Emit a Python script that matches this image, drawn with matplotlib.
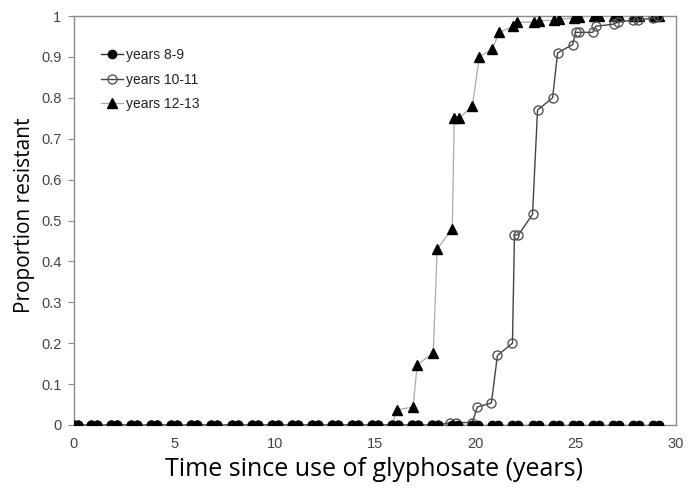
import matplotlib
matplotlib.use("Agg")
import matplotlib.pyplot as plt

# ---- data ----
years_89 = [0.0, 0.2, 0.85, 1.15, 1.85, 2.15, 2.85, 3.15, 3.85, 4.15, 4.85, 5.15,
            5.85, 6.15, 6.85, 7.15, 7.85, 8.15, 8.85, 9.15, 9.85, 10.15, 10.85,
            11.15, 11.85, 12.15, 12.85, 13.15, 13.85, 14.15, 14.85, 15.15, 15.85,
            16.15, 16.85, 17.15, 17.85, 18.15, 18.85, 19.15, 19.85, 20.15, 20.85,
            21.15, 21.85, 22.15, 22.85, 23.15, 23.85, 24.15, 24.85, 25.15, 25.85,
            26.15, 26.85, 27.15, 27.85, 28.15, 28.85, 29.15]
prop_89 = [0.0] * 60

years_1011 = [0.0, 0.2, 0.85, 1.15, 1.85, 2.15, 2.85, 3.15, 3.85, 4.15, 4.85, 5.15,
              5.85, 6.15, 6.85, 7.15, 7.85, 8.15, 8.85, 9.15, 9.85, 10.15, 10.85,
              11.15, 11.85, 12.15, 12.85, 13.15, 13.85, 14.15, 14.85, 15.15, 15.85,
              16.15, 16.85, 17.15, 17.85, 18.15, 18.75, 19.05, 19.85, 20.1, 20.8,
              21.1, 21.85, 21.95, 22.15, 22.85, 23.1, 23.85, 24.1, 24.85, 25.0,
              25.15, 25.85, 26.0, 26.9, 27.1, 27.85, 28.1, 28.85, 29.1]
prop_1011 = [0.0] * 38 + [0.006, 0.006, 0.006, 0.044, 0.054, 0.17, 0.20, 0.465,
                          0.465, 0.515, 0.77, 0.80, 0.91, 0.93, 0.96, 0.96, 0.96,
                          0.975, 0.98, 0.985, 0.99, 0.99, 0.995, 1.0]

years_1213 = [0.0, 0.2, 0.85, 1.15, 1.85, 2.15, 2.85, 3.15, 3.85, 4.15, 4.85, 5.15,
              5.85, 6.15, 6.85, 7.15, 7.85, 8.15, 8.85, 9.15, 9.85, 10.15, 10.85,
              11.15, 11.85, 12.15, 12.85, 13.15, 13.85, 14.15, 14.85, 15.15, 15.85,
              16.1, 16.9, 17.1, 17.9, 18.1, 18.85, 18.95, 19.2, 19.85, 20.2, 20.85,
              21.2, 21.9, 22.1, 22.9, 23.15, 23.9, 24.15, 24.9, 25.15, 25.9, 26.15,
              26.9, 27.15, 27.9, 28.15, 28.9, 29.15]
prop_1213 = [0.0] * 33 + [0.037, 0.044, 0.147, 0.176, 0.43, 0.48, 0.75, 0.75, 0.78,
                          0.90, 0.92, 0.96, 0.975, 0.985, 0.985, 0.988, 0.99,
                          0.992, 0.995, 0.997, 1.0, 1.0, 1.0, 1.0, 1.0, 1.0, 1.0, 1.0]

labels = ["years 8-9", "years 10-11", "years 12-13"]
x_ticks = [0, 5, 10, 15, 20, 25, 30]
y_ticks = [0, 0.1, 0.2, 0.3, 0.4, 0.5, 0.6, 0.7, 0.8, 0.9, 1]
y_tick_labels = ["0", "0.1", "0.2", "0.3", "0.4", "0.5", "0.6", "0.7", "0.8", "0.9", "1"]

# ---- figure ----
fig = plt.figure(figsize=(6.9, 4.88), dpi=100)
ax = fig.add_axes([74 / 690, 63 / 488, 602 / 690, 409 / 488])

ax.plot(years_1213, prop_1213, color="#aaaaaa", lw=0.9, marker="^", ms=6.8,
        mfc="black", mec="black", label=labels[2], zorder=3)
ax.plot(years_1011, prop_1011, color="#444444", lw=1.0, marker="o", ms=6.5,
        mfc="none", mec="#555555", mew=1.0, label=labels[1], zorder=4)
ax.plot(years_89, prop_89, color="#333333", lw=1.0, marker="o", ms=6,
        mfc="black", mec="black", label=labels[0], zorder=5)

ax.set_xlim(0, 30)
ax.set_ylim(0, 1)
ax.set_xticks(x_ticks)
ax.set_yticks(y_ticks)
ax.set_yticklabels(y_tick_labels)

tick_family = ["Liberation Sans", "DejaVu Sans"]
for lab in ax.get_xticklabels() + ax.get_yticklabels():
    lab.set_fontfamily(tick_family)
    lab.set_fontsize(10.5)
    lab.set_color("#444444")

ax.tick_params(axis="y", direction="out", length=4, width=0.8, color="#888888", pad=5)
ax.tick_params(axis="x", direction="out", length=0, pad=9)

for s in ax.spines.values():
    s.set_color("#8a8a8a")
    s.set_linewidth(1.0)

ax.set_xlabel("Time since use of glyphosate (years)",
              fontfamily=["Open Sans", "DejaVu Sans"], fontsize=18)
ax.xaxis.set_label_coords(0.5, -0.08, transform=None) if False else None
ax.xaxis.label.set_verticalalignment("center")
ax.xaxis.set_label_coords((374 - 74) / 602, -(470 - 425) / 409)
ax.set_ylabel("Proportion resistant",
              fontfamily=["Open Sans", "DejaVu Sans"], fontsize=15)
ax.yaxis.label.set_verticalalignment("center")
ax.yaxis.set_label_coords(-(74 - 25) / 602, (425 - 215) / 409)

handles, labs = ax.get_legend_handles_labels()
order = [2, 1, 0]
leg = ax.legend([handles[i] for i in order], [labs[i] for i in order],
                loc="upper left", bbox_to_anchor=(0.035, 0.935), frameon=False,
                prop={"family": tick_family, "size": 10},
                handlelength=1.6, handletextpad=0.2, labelspacing=0.75,
                borderaxespad=0)
for t in leg.get_texts():
    t.set_color("#222222")

fig.savefig("out.png", dpi=100)
